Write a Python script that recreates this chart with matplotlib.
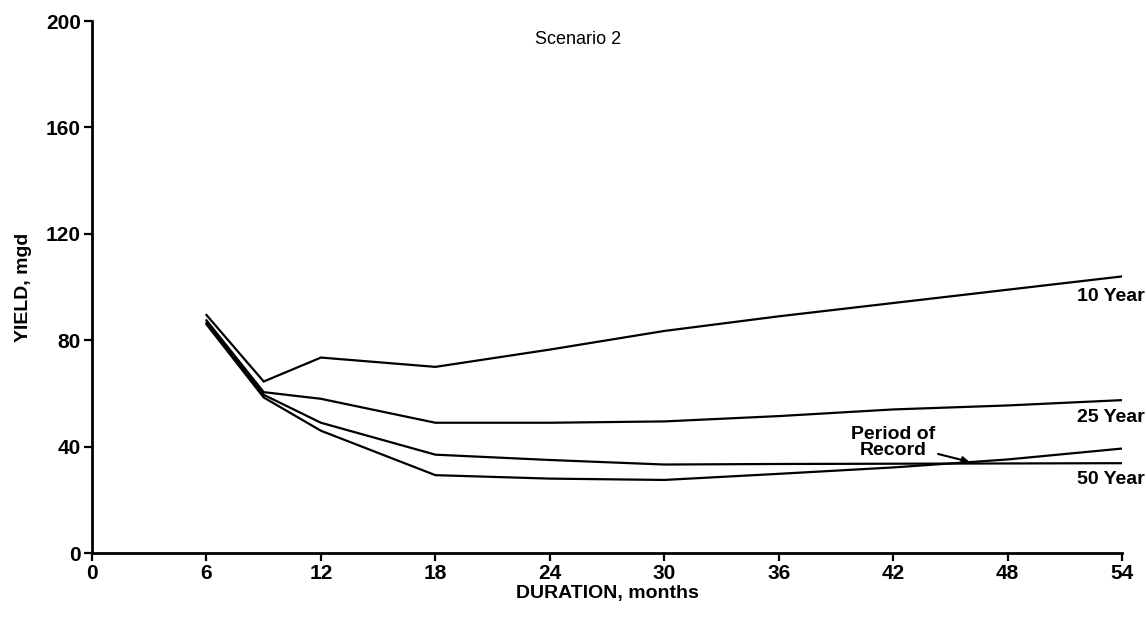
import numpy as np
import matplotlib.pyplot as plt

plt.rcParams['font.family'] = ['Liberation Sans', 'DejaVu Sans']

# yield (mgd) vs drought duration (months)
months = [6, 9, 12, 18, 24, 30, 36, 42, 48, 54]
yield_10yr = [89.5, 64.5, 73.5, 70.0, 76.5, 83.5, 89.0, 94.0, 99.0, 104.0]
yield_25yr = [87.5, 60.5, 58.0, 49.0, 49.0, 49.5, 51.5, 54.0, 55.5, 57.5]
yield_50yr = [86.5, 59.5, 49.0, 37.0, 35.0, 33.3, 33.5, 33.6, 33.7, 33.8]
yield_por = [86.0, 58.5, 46.0, 29.3, 28.0, 27.5, 29.8, 32.2, 35.2, 39.3]

xticks = [0, 6, 12, 18, 24, 30, 36, 42, 48, 54]
yticks = [0, 40, 80, 120, 160, 200]

fig = plt.figure(figsize=(11.46, 6.18), dpi=100)
ax = fig.add_axes([0.0803, 0.105, 0.8988, 0.861])

for ys in (yield_10yr, yield_25yr, yield_50yr, yield_por):
    ax.plot(months, ys, color='black', lw=1.6, solid_joinstyle='miter')

ax.set_xlim(0, 54)
ax.set_ylim(0, 200)
ax.set_xticks(xticks)
ax.set_yticks(yticks)
ax.tick_params(direction='out', length=6, width=1.6, labelsize=15, pad=2)
for lab in ax.get_xticklabels() + ax.get_yticklabels():
    lab.set_fontweight('bold')

for s in ('top', 'right'):
    ax.spines[s].set_visible(False)
for s in ('left', 'bottom'):
    ax.spines[s].set_linewidth(2)

ax.set_xlabel('DURATION, months', fontsize=14, fontweight='bold', labelpad=1)
ax.set_ylabel('YIELD, mgd', fontsize=14, fontweight='bold', labelpad=10)
ax.text(25.5, 193, 'Scenario 2', fontsize=13, ha='center', va='center')

# curve labels at the right end
ax.text(55.2, 96.5, '10 Year', fontsize=14, fontweight='bold', ha='right', va='center')
ax.text(55.2, 51, '25 Year', fontsize=14, fontweight='bold', ha='right', va='center')
ax.text(55.2, 27.5, '50 Year', fontsize=14, fontweight='bold', ha='right', va='center')
ax.annotate('Period of\nRecord', xy=(46.0, 34.3), xytext=(42.0, 41.5),
            fontsize=14, fontweight='bold', ha='center', va='center',
            linespacing=0.95,
            arrowprops=dict(arrowstyle='-|>', color='black', lw=1.5,
                            mutation_scale=10, shrinkA=42, shrinkB=0))

fig.savefig('out.png', dpi=100)
